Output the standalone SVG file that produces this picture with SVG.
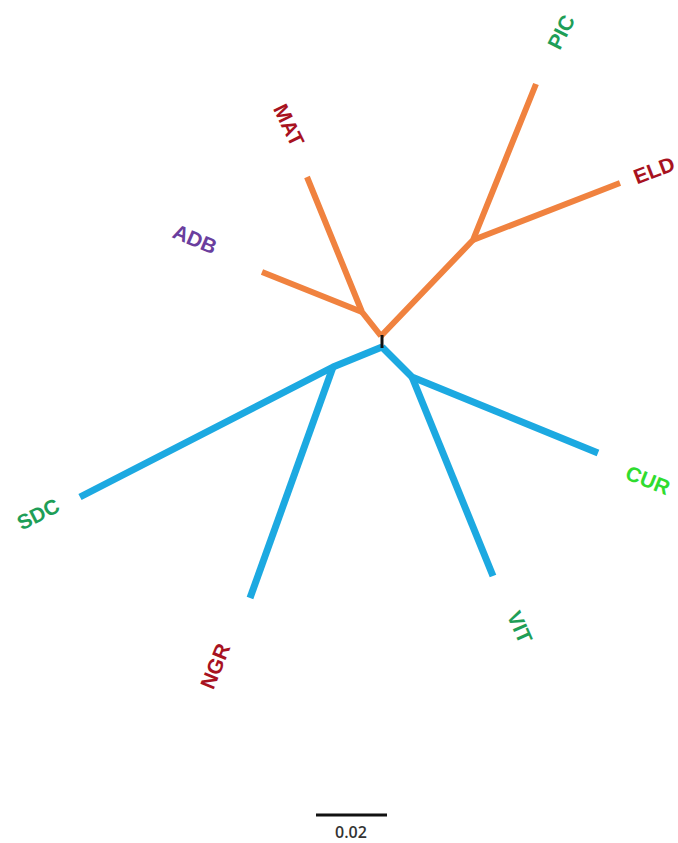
<svg xmlns="http://www.w3.org/2000/svg" width="678" height="843" viewBox="0 0 678 843">
<style>
.o{stroke:#F0823F;stroke-width:6;fill:none;stroke-linecap:butt;stroke-linejoin:round}
.b{stroke:#1CA9E1;stroke-width:7;fill:none;stroke-linecap:butt;stroke-linejoin:round}
.lbl{font-family:"Liberation Sans",Arial,sans-serif;font-size:21px;font-weight:bold;text-anchor:middle;dominant-baseline:central}
.red{fill:#A8121F}.grn{fill:#1E9E57}.lime{fill:#2FDC2F}.pur{fill:#6A3E9E}
</style>
<rect width="678" height="843" fill="#fff"/>
<g id="connectors">
<path class="o" d="M381,336 L362,312 L307,177"/>
<path class="o" d="M362,312 L262,272"/>
<path class="o" d="M381,336 L473,240 L536,84"/>
<path class="o" d="M473,240 L620,183"/>
<path class="b" d="M382,347 L333,367 L80,497"/>
<path class="b" d="M333,367 L250,598"/>
<path class="b" d="M382,347 L412,377 L598,453"/>
<path class="b" d="M412,377 L493,576"/>
<line x1="382" y1="335" x2="382" y2="348" stroke="#111" stroke-width="3"/>
</g>
<g id="MAT"><text class="lbl red" transform="translate(289,125) rotate(64)">MAT</text></g>
<g id="ADB"><text class="lbl pur" transform="translate(195,239) rotate(23)">ADB</text></g>
<g id="PIC"><text class="lbl grn" transform="translate(561,32) rotate(-63)">PIC</text></g>
<g id="ELD"><text class="lbl red" transform="translate(654,170) rotate(-21)">ELD</text></g>
<g id="SDC"><text class="lbl grn" transform="translate(38,514) rotate(-27)">SDC</text></g>
<g id="CUR"><text class="lbl lime" transform="translate(648,480) rotate(22)">CUR</text></g>
<g id="NGR"><text class="lbl red" transform="translate(215,666) rotate(-68)">NGR</text></g>
<g id="VIT"><text class="lbl grn" transform="translate(520,627) rotate(66)">VIT</text></g>
<g id="scale">
<line x1="316" y1="815" x2="387" y2="815" stroke="#111" stroke-width="3"/>
<text x="351" y="838" font-family="'Open Sans','Liberation Sans',sans-serif" font-size="16" font-weight="600" fill="#333" text-anchor="middle">0.02</text>
</g>
</svg>
